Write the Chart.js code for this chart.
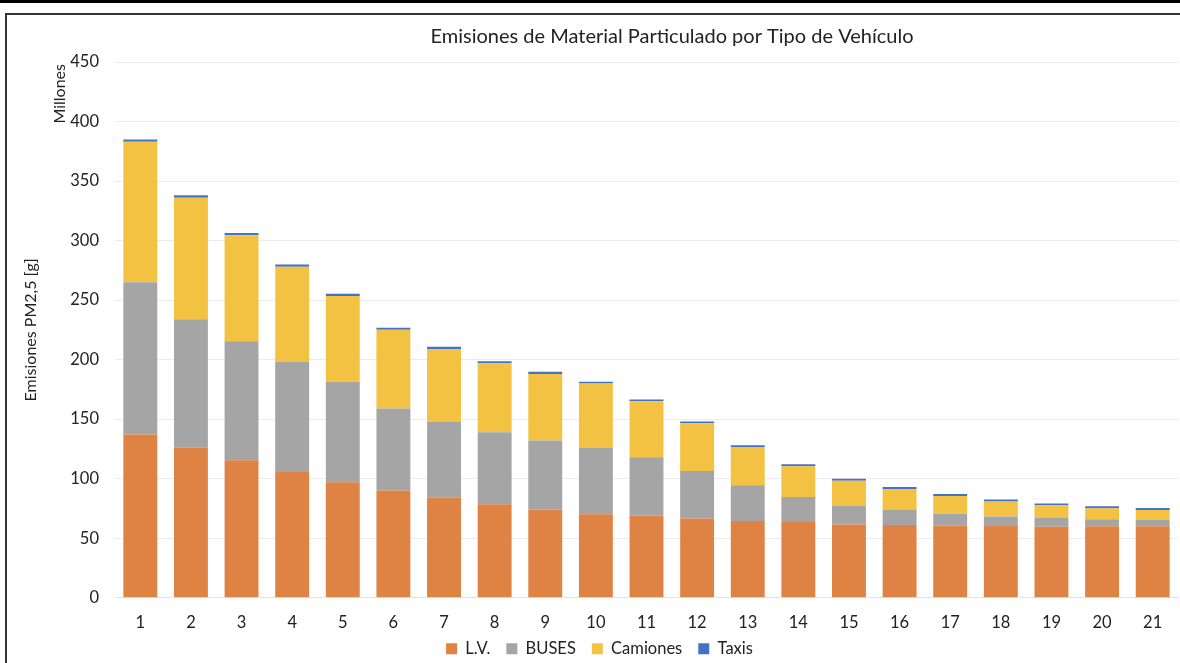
<!DOCTYPE html>
<html lang="es">
<head>
<meta charset="utf-8">
<title>Emisiones de Material Particulado por Tipo de Vehículo</title>
<script src="https://cdn.jsdelivr.net/npm/chart.js@4"></script>
<style>
  html, body { margin: 0; padding: 0; background: #fff; overflow: hidden; }
  #topline { position: absolute; left: 0; top: 0; width: 1180px; height: 3px; background: #000; }
  #frame {
    position: absolute; left: 5px; top: 13px; width: 1175px; height: 650px;
    border-top: 2px solid #333; border-left: 2px solid #333; box-sizing: border-box;
  }
  #wrap { position: absolute; left: 7px; top: 15px; width: 1173px; height: 648px; }
</style>
</head>
<body>
<div id="topline"></div>
<div id="frame"></div>
<div id="wrap"><canvas id="chart"></canvas></div>
<script>
const categorias = ['1','2','3','4','5','6','7','8','9','10','11','12','13','14','15','16','17','18','19','20','21'];

// valores en millones de gramos
const lv       = [137, 126, 115.5, 105.5, 97, 90, 84, 78.5, 74, 70, 69, 66.5, 64.5, 63.5, 61.5, 61, 60.5, 60.3, 59.7, 60, 60];
const buses    = [128, 108, 100, 92.5, 84.5, 69, 64, 60.5, 58, 56, 49, 40, 30, 21, 15.5, 13, 10, 8, 7.3, 6, 5.3];
const camiones = [118, 102, 89, 80, 72, 66, 61, 58, 56, 54, 47, 40, 32, 26, 21.3, 17.4, 15, 12.6, 10.6, 9.2, 8.4];
const taxis    = [2, 2, 1.8, 1.8, 1.8, 1.8, 1.7, 1.7, 1.7, 1.5, 1.5, 1.6, 1.5, 1.6, 1.6, 1.6, 1.6, 1.6, 1.6, 1.6, 1.6];

const FONT = 'Lato, "Open Sans", sans-serif';

// titulo y "Millones" como en el original de Excel
const extraText = {
  id: 'extraText',
  afterLayout(chart) {
    // la leyenda queda más pegada a las etiquetas del eje
    chart.legend.top -= 15;
    chart.legend.bottom -= 15;
  },
  afterDraw(chart) {
    const { ctx, chartArea } = chart;
    ctx.save();
    ctx.fillStyle = '#222';
    ctx.font = '20px ' + FONT;
    ctx.textAlign = 'center';
    ctx.textBaseline = 'middle';
    ctx.fillText('Emisiones de Material Particulado por Tipo de Vehículo',
      chartArea.left + (chartArea.right - chartArea.left) * 0.524, 22);
    ctx.translate(53, chartArea.top + 2);
    ctx.rotate(-Math.PI / 2);
    ctx.font = '16px ' + FONT;
    ctx.textAlign = 'right';
    ctx.fillText('Millones', 0, 0);
    ctx.restore();
  }
};

new Chart(document.getElementById('chart'), {
  type: 'bar',
  data: {
    labels: categorias,
    datasets: [
      { label: 'L.V.', data: lv, backgroundColor: '#DF8344' },
      { label: 'BUSES', data: buses, backgroundColor: '#A5A5A5' },
      { label: 'Camiones', data: camiones, backgroundColor: '#F4C243' },
      { label: 'Taxis', data: taxis, backgroundColor: '#4472C4' }
    ]
  },
  options: {
    responsive: true,
    maintainAspectRatio: false,
    animation: false,
    datasets: { bar: { categoryPercentage: 1, barPercentage: 0.67 } },
    layout: { padding: { top: 47, right: 2, bottom: -19, left: 14 } },
    plugins: {
      title: { display: false },
      tooltip: { enabled: false },
      legend: {
        position: 'bottom',
        labels: {
          boxWidth: 11, boxHeight: 11, padding: 16,
          color: '#222', font: { family: FONT, size: 16.5 }
        }
      }
    },
    scales: {
      x: {
        stacked: true,
        grid: { display: false },
        border: { display: true, color: '#e3e3e3' },
        ticks: { color: '#222', padding: 7, font: { family: FONT, size: 16.5 } }
      },
      y: {
        stacked: true,
        min: 0, max: 450,
        ticks: { stepSize: 50, color: '#222', padding: 16, font: { family: FONT, size: 16.5 } },
        grid: { color: '#ececec', drawTicks: false },
        border: { display: false },
        title: {
          display: true, text: 'Emisiones PM2,5 [g]', color: '#222',
          font: { family: FONT, size: 16 }, padding: { top: 0, bottom: 0 }
        },
        afterFit(scale) { scale.width = 94; }
      }
    }
  },
  plugins: [extraText]
});
</script>
</body>
</html>
